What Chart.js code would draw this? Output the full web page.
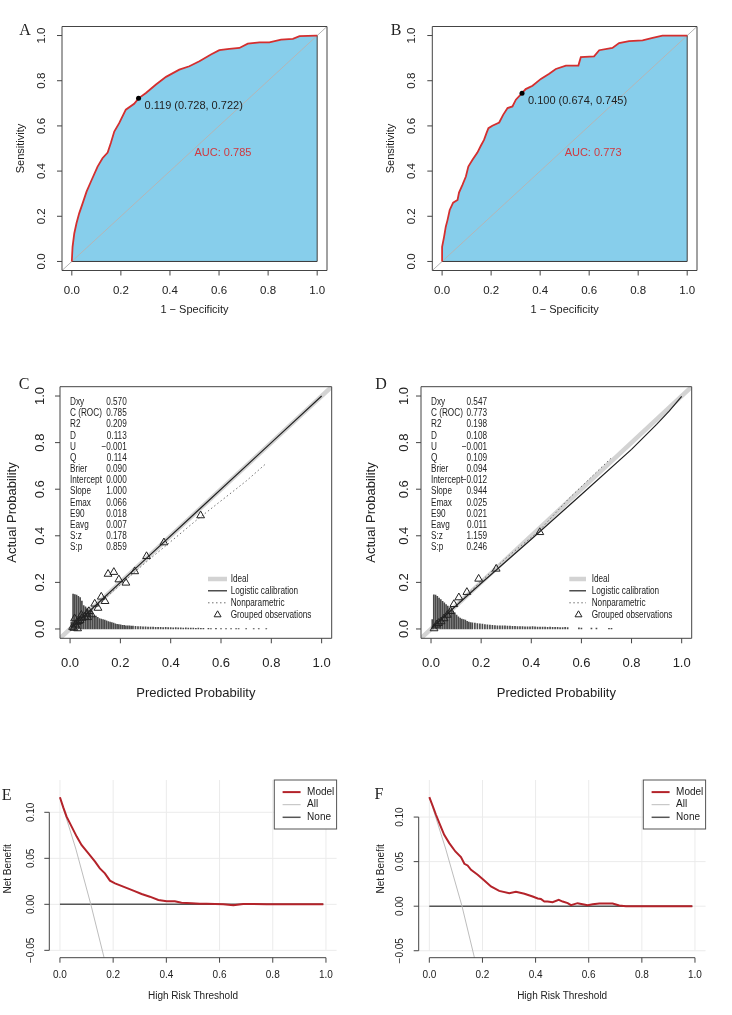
<!DOCTYPE html>
<html>
<head>
<meta charset="utf-8">
<title>ROC, calibration and decision curves</title>
<script src="https://cdn.jsdelivr.net/npm/chart.js@4.4.1/dist/chart.umd.min.js"></script>
<style>
  html, body { margin: 0; padding: 0; background: #ffffff; }
  #page { position: relative; width: 732px; height: 1015px; overflow: hidden; background: #ffffff; }
  .panel { position: absolute; }
  .panel canvas { display: block; }
</style>
</head>
<body>
<div id="page">
  <div class="panel" id="wrapA"><canvas id="rocA"></canvas></div>
  <div class="panel" id="wrapB"><canvas id="rocB"></canvas></div>
  <div class="panel" id="wrapC"><canvas id="calC"></canvas></div>
  <div class="panel" id="wrapD"><canvas id="calD"></canvas></div>
  <div class="panel" id="wrapE"><canvas id="dcaE"></canvas></div>
  <div class="panel" id="wrapF"><canvas id="dcaF"></canvas></div>
</div>
<script>
// ---- values ----
const unitTicks = [0, 0.2, 0.4, 0.6, 0.8, 1.0];
const unitTickLabels = ['0.0', '0.2', '0.4', '0.6', '0.8', '1.0'];
const nbTicks = [-0.05, 0, 0.05, 0.10];
const nbTickLabels = ['\u22120.05', '0.00', '0.05', '0.10'];

// ROC, training (A)
const rocA_fpr = [0, 0.003, 0.010, 0.019, 0.030, 0.044, 0.060, 0.078, 0.105, 0.125, 0.146, 0.159, 0.173, 0.193, 0.220, 0.254, 0.272, 0.302, 0.343, 0.384, 0.438, 0.479, 0.520, 0.567, 0.601, 0.642, 0.683, 0.717, 0.765, 0.805, 0.853, 0.901, 0.928, 0.996, 1];
const rocA_tpr = [0, 0.065, 0.124, 0.169, 0.213, 0.257, 0.309, 0.354, 0.420, 0.457, 0.482, 0.524, 0.575, 0.612, 0.672, 0.698, 0.722, 0.746, 0.783, 0.817, 0.849, 0.864, 0.886, 0.916, 0.935, 0.941, 0.945, 0.964, 0.970, 0.970, 0.982, 0.985, 0.997, 1.0, 1.0];
const rocA_best = [0.272, 0.722];
const rocA_bestLabel = '0.119 (0.728, 0.722)';
const rocA_auc = 'AUC: 0.785';

// ROC, validation (B)
const rocB_fpr = [0, 0, 0.008, 0.015, 0.022, 0.031, 0.045, 0.063, 0.069, 0.083, 0.097, 0.107, 0.124, 0.144, 0.158, 0.171, 0.181, 0.189, 0.205, 0.233, 0.249, 0.267, 0.287, 0.301, 0.326, 0.341, 0.369, 0.403, 0.437, 0.464, 0.505, 0.556, 0.566, 0.620, 0.641, 0.695, 0.722, 0.763, 0.818, 0.859, 0.899, 1];
const rocB_tpr = [0, 0.065, 0.109, 0.154, 0.183, 0.228, 0.260, 0.272, 0.305, 0.339, 0.376, 0.420, 0.450, 0.482, 0.512, 0.538, 0.568, 0.590, 0.601, 0.615, 0.649, 0.679, 0.686, 0.716, 0.745, 0.763, 0.778, 0.808, 0.831, 0.852, 0.867, 0.867, 0.905, 0.908, 0.935, 0.945, 0.967, 0.975, 0.979, 0.990, 1.0, 1.0];
const rocB_best = [0.326, 0.745];
const rocB_bestLabel = '0.100 (0.674, 0.745)';
const rocB_auc = 'AUC: 0.773';

// calibration (C, D)
const calStatNames = ['Dxy', 'C (ROC)', 'R2', 'D', 'U', 'Q', 'Brier', 'Intercept', 'Slope', 'Emax', 'E90', 'Eavg', 'S:z', 'S:p'];
const calC_stats = ['0.570', '0.785', '0.209', '0.113', '\u22120.001', '0.114', '0.090', '0.000', '1.000', '0.066', '0.018', '0.007', '0.178', '0.859'];
const calD_stats = ['0.547', '0.773', '0.198', '0.108', '\u22120.001', '0.109', '0.094', '\u22120.012', '0.944', '0.025', '0.021', '0.011', '1.159', '0.246'];
const calLegendLabels = ['Ideal', 'Logistic calibration', 'Nonparametric', 'Grouped observations'];

const calC_obsX = [0.519, 0.373, 0.304, 0.257, 0.222, 0.194, 0.174, 0.151, 0.124, 0.139, 0.111, 0.098, 0.085, 0.075, 0.066, 0.058, 0.048, 0.040, 0.034, 0.027, 0.021, 0.018, 0.015, 0.030, 0.010, 0.045, 0.070];
const calC_obsY = [0.487, 0.371, 0.312, 0.247, 0.198, 0.212, 0.244, 0.236, 0.138, 0.119, 0.090, 0.108, 0.062, 0.076, 0.065, 0.052, 0.047, 0.038, 0.033, 0.028, 0.018, 0.045, 0.004, 0.002, 0.008, 0.060, 0.050];
const calC_logX = [0.005, 0.1, 0.3, 0.5, 0.8, 1.0];
const calC_logY = [0.005, 0.1, 0.3, 0.5, 0.8, 1.0];
const calC_npX = [0.005, 0.05, 0.1, 0.2, 0.3, 0.4, 0.5, 0.6, 0.7, 0.78];
const calC_npY = [0.003, 0.045, 0.095, 0.19, 0.285, 0.375, 0.465, 0.55, 0.635, 0.711];
const calC_spikeX = [0.005, 0.012, 0.019, 0.026, 0.033, 0.040, 0.047, 0.054, 0.061, 0.068, 0.075, 0.082, 0.089, 0.096, 0.103, 0.110, 0.117, 0.124, 0.131, 0.138, 0.145, 0.152, 0.159, 0.166, 0.173, 0.180, 0.187, 0.194, 0.201, 0.208, 0.215, 0.222, 0.229, 0.236, 0.243, 0.250, 0.260, 0.270, 0.280, 0.290, 0.300, 0.310, 0.320, 0.330, 0.340, 0.350, 0.360, 0.370, 0.380, 0.390, 0.400, 0.410, 0.420, 0.430, 0.440, 0.450, 0.460, 0.470, 0.480, 0.490, 0.500, 0.510, 0.520, 0.530, 0.550, 0.560, 0.580, 0.600, 0.620, 0.640, 0.660, 0.670, 0.700, 0.730, 0.750, 0.780];
const calC_spikeH = [0.030, 0.150, 0.148, 0.145, 0.140, 0.135, 0.120, 0.100, 0.095, 0.090, 0.082, 0.075, 0.065, 0.058, 0.055, 0.050, 0.045, 0.042, 0.040, 0.038, 0.035, 0.032, 0.030, 0.028, 0.025, 0.022, 0.020, 0.019, 0.018, 0.016, 0.016, 0.014, 0.013, 0.013, 0.012, 0.012, 0.011, 0.010, 0.010, 0.009, 0.009, 0.008, 0.008, 0.008, 0.007, 0.007, 0.007, 0.006, 0.007, 0.006, 0.006, 0.005, 0.006, 0.005, 0.005, 0.004, 0.005, 0.004, 0.004, 0.004, 0.003, 0.004, 0.003, 0.003, 0.003, 0.002, 0.003, 0.002, 0.002, 0.002, 0.002, 0.002, 0.002, 0.002, 0.002, 0.002];

const calD_obsX = [0.434, 0.260, 0.190, 0.143, 0.111, 0.091, 0.078, 0.065, 0.052, 0.040, 0.030, 0.022, 0.012];
const calD_obsY = [0.415, 0.258, 0.215, 0.158, 0.135, 0.106, 0.076, 0.060, 0.045, 0.032, 0.025, 0.018, 0.002];
const calD_logX = [0.005, 0.1, 0.2, 0.4, 0.6, 0.8, 0.9, 0.95, 1.0];
const calD_logY = [0.006, 0.1, 0.196, 0.385, 0.577, 0.771, 0.878, 0.935, 0.998];
const calD_npX = [0.01, 0.1, 0.2, 0.3, 0.43, 0.55, 0.72];
const calD_npY = [0.005, 0.105, 0.205, 0.305, 0.42, 0.56, 0.735];
const calD_spikeX = [0.005, 0.011, 0.018, 0.025, 0.032, 0.039, 0.046, 0.053, 0.060, 0.067, 0.074, 0.081, 0.088, 0.095, 0.102, 0.109, 0.116, 0.123, 0.130, 0.137, 0.144, 0.151, 0.158, 0.165, 0.175, 0.185, 0.195, 0.205, 0.215, 0.225, 0.235, 0.245, 0.255, 0.265, 0.275, 0.285, 0.295, 0.305, 0.315, 0.325, 0.335, 0.345, 0.355, 0.365, 0.375, 0.385, 0.395, 0.405, 0.415, 0.425, 0.435, 0.445, 0.455, 0.465, 0.475, 0.485, 0.495, 0.505, 0.515, 0.525, 0.535, 0.545, 0.590, 0.600, 0.640, 0.660, 0.710, 0.720];
const calD_spikeH = [0.040, 0.147, 0.145, 0.140, 0.133, 0.126, 0.119, 0.112, 0.105, 0.098, 0.090, 0.083, 0.076, 0.069, 0.060, 0.052, 0.047, 0.043, 0.040, 0.038, 0.033, 0.030, 0.028, 0.026, 0.025, 0.023, 0.022, 0.021, 0.019, 0.018, 0.017, 0.016, 0.015, 0.014, 0.014, 0.013, 0.013, 0.012, 0.012, 0.011, 0.011, 0.010, 0.010, 0.010, 0.009, 0.009, 0.009, 0.010, 0.009, 0.008, 0.008, 0.008, 0.008, 0.007, 0.008, 0.007, 0.007, 0.007, 0.006, 0.006, 0.007, 0.006, 0.005, 0.004, 0.004, 0.004, 0.003, 0.003];

// decision curves (E, F)
const dcaLegendLabels = ['Model', 'All', 'None'];
const dcaE_thr = [0, 0.0125, 0.025, 0.044, 0.063, 0.081, 0.107, 0.132, 0.150, 0.169, 0.188, 0.207, 0.238, 0.276, 0.307, 0.338, 0.370, 0.401, 0.432, 0.457, 0.495, 0.526, 0.551, 0.583, 0.614, 0.652, 0.689, 0.727, 0.777, 0.99];
const dcaE_model = [0.1163, 0.1054, 0.0953, 0.0844, 0.0736, 0.0645, 0.0554, 0.0464, 0.0391, 0.0337, 0.0257, 0.0228, 0.0192, 0.0149, 0.0112, 0.0083, 0.0047, 0.0033, 0.0033, 0.0018, 0.0011, 0.0007, 0.0007, 0.0004, 0, -0.0011, 0.0004, 0.0004, 0, 0];
const dcaE_allThr = [0, 0.06, 0.116, 0.166];
const dcaE_all = [0.116, 0.060, 0, -0.058];
const dcaF_thr = [0, 0.0125, 0.025, 0.040, 0.056, 0.075, 0.098, 0.119, 0.132, 0.144, 0.157, 0.182, 0.207, 0.232, 0.263, 0.301, 0.326, 0.358, 0.389, 0.408, 0.420, 0.433, 0.445, 0.464, 0.487, 0.502, 0.521, 0.533, 0.558, 0.577, 0.596, 0.615, 0.640, 0.690, 0.715, 0.740, 0.99];
const dcaF_model = [0.1225, 0.1127, 0.1026, 0.0914, 0.0801, 0.0708, 0.0614, 0.0551, 0.0476, 0.0457, 0.0408, 0.0352, 0.0288, 0.0221, 0.0172, 0.0146, 0.0161, 0.0139, 0.0109, 0.0086, 0.0082, 0.0052, 0.0052, 0.0045, 0.0071, 0.0052, 0.0034, 0.0011, 0.0034, 0.0022, 0.0011, 0.0022, 0.0030, 0.0030, 0.0007, 0, 0];
const dcaF_allThr = [0, 0.062, 0.123, 0.170];
const dcaF_all = [0.1225, 0.064, 0, -0.058];
const noneThr = [0, 0.99];
const noneNb = [0, 0];

// ---- drawing ----
const SANS = "'Liberation Sans', Arial, Helvetica, sans-serif";
const SERIF = "'Liberation Serif', 'Times New Roman', serif";
const INK = '#222222';
const AXIS = '#444444';
const ROC_RED = '#D42F2F';
const DCA_RED = '#B4232A';
const refSpan = [-0.04, 1.04];

function pts(xs, ys) { return xs.map((x, i) => ({ x: x, y: ys[i] })); }

function lineSet(data, color, width, order, extra) {
    return Object.assign({
        type: 'line', data: data, borderColor: color, borderWidth: width,
        pointRadius: 0, fill: false, tension: 0, order: order
    }, extra || {});
}

let narrowOK = null;
function narrowText(ctx, text, x, y, align, size) {
    if (narrowOK === null) {
        ctx.save();
        ctx.font = "10px 'Liberation Sans Narrow', 'Liberation Mono'";
        const a = ctx.measureText('Logistic calibration').width;
        ctx.font = "10px 'Liberation Mono'";
        const b = ctx.measureText('Logistic calibration').width;
        ctx.restore();
        narrowOK = Math.abs(a - b) > 0.5;
    }
    ctx.save();
    ctx.translate(x, y);
    if (narrowOK) {
        ctx.font = size + "px 'Liberation Sans Narrow'";
    } else {
        ctx.font = size + 'px ' + SANS;
        ctx.scale(0.82, 1);
    }
    ctx.textAlign = align;
    ctx.textBaseline = 'middle';
    ctx.fillStyle = INK;
    ctx.fillText(text, 0, 0);
    ctx.restore();
}

function rotText(ctx, text, x, y) {
    ctx.save();
    ctx.translate(x, y);
    ctx.rotate(-Math.PI / 2);
    ctx.fillText(text, 0, 0);
    ctx.restore();
}

function drawGrid(chart, cfg) {
    const ctx = chart.ctx, ca = chart.chartArea, sx = chart.scales.x, sy = chart.scales.y;
    const yLow = sy.getPixelForValue(cfg.axes.yTicks[0]);
    ctx.save();
    ctx.strokeStyle = '#EBEBEB';
    ctx.lineWidth = 1;
    ctx.beginPath();
    cfg.axes.xTicks.forEach(v => {
        const p = sx.getPixelForValue(v);
        ctx.moveTo(p, ca.top); ctx.lineTo(p, yLow);
    });
    cfg.axes.yTicks.forEach(v => {
        const p = sy.getPixelForValue(v);
        ctx.moveTo(ca.left, p); ctx.lineTo(ca.right, p);
    });
    ctx.stroke();
    ctx.restore();
}

function drawAxes(chart, cfg) {
    const ctx = chart.ctx, ca = chart.chartArea, sx = chart.scales.x, sy = chart.scales.y;
    const ax = cfg.axes;
    ctx.save();
    ctx.strokeStyle = AXIS;
    ctx.lineWidth = 1;
    ctx.beginPath();
    if (cfg.kind === 'dca') {
        // R style: axis lines run from the first to the last tick
        ctx.moveTo(sx.getPixelForValue(ax.xTicks[0]), ca.bottom);
        ctx.lineTo(sx.getPixelForValue(ax.xTicks[ax.xTicks.length - 1]), ca.bottom);
        ctx.moveTo(ca.left, sy.getPixelForValue(ax.yTicks[0]));
        ctx.lineTo(ca.left, sy.getPixelForValue(ax.yTicks[ax.yTicks.length - 1]));
    } else {
        ctx.rect(ca.left, ca.top, ca.right - ca.left, ca.bottom - ca.top);
    }
    ax.xTicks.forEach(v => {
        const p = sx.getPixelForValue(v);
        ctx.moveTo(p, ca.bottom); ctx.lineTo(p, ca.bottom + 5);
    });
    ax.yTicks.forEach(v => {
        const p = sy.getPixelForValue(v);
        ctx.moveTo(ca.left, p); ctx.lineTo(ca.left - 5, p);
    });
    ctx.stroke();

    ctx.fillStyle = INK;
    ctx.textAlign = 'center';
    ctx.textBaseline = 'middle';
    ctx.font = ax.tickSize + 'px ' + SANS;
    ax.xTicks.forEach((v, i) => ctx.fillText(ax.xLabels[i], sx.getPixelForValue(v), ca.bottom + ax.xLabOff));
    ax.yTicks.forEach((v, i) => rotText(ctx, ax.yLabels[i], ca.left - ax.yLabOff, sy.getPixelForValue(v)));
    ctx.font = ax.titleSize + 'px ' + SANS;
    ctx.fillText(ax.xTitle, (ca.left + ca.right) / 2, ca.bottom + ax.xTitleOff);
    rotText(ctx, ax.yTitle, ca.left - ax.yTitleOff, (ca.top + ca.bottom) / 2);

    ctx.font = '16px ' + SERIF;
    ctx.fillText(cfg.letter, cfg.letterPos[0] - cfg.frame.x, cfg.letterPos[1] - cfg.frame.y);
    ctx.restore();
}

function rDecor(cfg) {
    return {
        id: 'rdecor',
        beforeDatasetsDraw(chart) { if (cfg.kind === 'dca') drawGrid(chart, cfg); },
        afterDatasetsDraw(chart) {
            drawAxes(chart, cfg);
            if (cfg.notes) cfg.notes(chart, cfg);
        }
    };
}

function makePanel(cfg) {
    const f = cfg.frame, a = cfg.area;
    const wrap = document.getElementById(cfg.wrap);
    wrap.style.left = f.x + 'px';
    wrap.style.top = f.y + 'px';
    wrap.style.width = f.w + 'px';
    wrap.style.height = f.h + 'px';
    return new Chart(document.getElementById(cfg.canvas), {
        type: 'scatter',
        data: { datasets: cfg.datasets },
        options: {
            responsive: true,
            maintainAspectRatio: false,
            animation: false,
            layout: { padding: { left: a.l - f.x, top: a.t - f.y, right: f.x + f.w - a.r, bottom: f.y + f.h - a.b } },
            plugins: { legend: { display: false }, tooltip: { enabled: false } },
            scales: {
                x: { type: 'linear', min: cfg.xRange[0], max: cfg.xRange[1], offset: false, display: false },
                y: { type: 'linear', min: cfg.yRange[0], max: cfg.yRange[1], offset: false, display: false }
            }
        },
        plugins: [rDecor(cfg)]
    });
}

// ROC panels
function rocSets(fpr, tpr, best) {
    return [
        lineSet(pts(fpr, tpr), 'rgba(0,0,0,0)', 0, 5, { fill: 'origin', backgroundColor: '#87CEEB' }),
        lineSet(pts(refSpan, refSpan), '#B5B5B5', 1, 4),
        lineSet(pts([0, 1, 1], [0, 0, 1]), '#3A3A3A', 1, 3),
        lineSet(pts(fpr, tpr), ROC_RED, 1.8, 2),
        { type: 'scatter', data: [{ x: best[0], y: best[1] }], pointRadius: 2.5, backgroundColor: '#000', borderWidth: 0, order: 1 }
    ];
}

function rocNotes(best, label, auc) {
    return function (chart) {
        const ctx = chart.ctx, sx = chart.scales.x, sy = chart.scales.y;
        ctx.save();
        ctx.font = '11px ' + SANS;
        ctx.textAlign = 'left';
        ctx.textBaseline = 'middle';
        ctx.fillStyle = INK;
        ctx.fillText(label, sx.getPixelForValue(best[0]) + 6, sy.getPixelForValue(best[1]) + 7.5);
        ctx.fillStyle = '#D0393F';
        ctx.fillText(auc, sx.getPixelForValue(0.5), sy.getPixelForValue(0.479));
        ctx.restore();
    };
}

function rocAxes(yLabOff, yTitleOff) {
    return {
        xTicks: unitTicks, xLabels: unitTickLabels, yTicks: unitTicks, yLabels: unitTickLabels,
        tickSize: 11.5, titleSize: 11, xLabOff: 20.2, xTitleOff: 39.5, yLabOff: yLabOff, yTitleOff: yTitleOff,
        xTitle: '1 \u2212 Specificity', yTitle: 'Sensitivity'
    };
}

// calibration panels
function calSets(npX, npY, logX, logY, spX, spH, obX, obY) {
    return [
        lineSet(pts(refSpan, refSpan), '#D3D3D3', 4.5, 6),
        { type: 'bar', data: pts(spX, spH), backgroundColor: '#4A4A4A', borderWidth: 0, barThickness: 1, order: 5 },
        lineSet(pts(npX, npY), '#6E6E6E', 1, 4, { borderDash: [1.5, 2.5] }),
        lineSet(pts(logX, logY), '#222222', 1.2, 3),
        { type: 'scatter', data: pts(obX, obY), pointStyle: 'triangle', pointRadius: 4.5, borderColor: '#222222', borderWidth: 1, backgroundColor: 'rgba(0,0,0,0)', order: 2 }
    ];
}

function calNotes(values, nameX, valueRight, leg) {
    return function (chart, cfg) {
        const ctx = chart.ctx, fx = cfg.frame.x, fy = cfg.frame.y;
        calStatNames.forEach((name, i) => {
            const y = 402.3 + i * 11.18 - fy;
            narrowText(ctx, name, nameX - fx, y, 'left', 10);
            narrowText(ctx, values[i], valueRight - fx, y, 'right', 10);
        });
        const rows = [579, 590.8, 602.8, 614.8];
        const l = leg.lineL - fx, r = leg.lineR - fx;
        ctx.save();
        ctx.lineCap = 'butt';
        ctx.strokeStyle = '#D3D3D3'; ctx.lineWidth = 4.5;
        ctx.beginPath(); ctx.moveTo(l, rows[0] - fy); ctx.lineTo(r, rows[0] - fy); ctx.stroke();
        ctx.strokeStyle = '#222222'; ctx.lineWidth = 1.2;
        ctx.beginPath(); ctx.moveTo(l, rows[1] - fy); ctx.lineTo(r, rows[1] - fy); ctx.stroke();
        ctx.strokeStyle = '#6E6E6E'; ctx.lineWidth = 1; ctx.setLineDash([1.5, 2.5]);
        ctx.beginPath(); ctx.moveTo(l, rows[2] - fy); ctx.lineTo(r, rows[2] - fy); ctx.stroke();
        ctx.setLineDash([]);
        ctx.strokeStyle = '#222222'; ctx.fillStyle = 'rgba(0,0,0,0)'; ctx.lineWidth = 1;
        Chart.helpers.drawPoint(ctx, { pointStyle: 'triangle', radius: 4, borderWidth: 1 }, leg.tri - fx, rows[3] - fy);
        ctx.restore();
        calLegendLabels.forEach((t, i) => narrowText(ctx, t, leg.textX - fx, rows[i] - fy, 'left', 10));
    };
}

function calAxes(yLabOff, yTitleOff) {
    return {
        xTicks: unitTicks, xLabels: unitTickLabels, yTicks: unitTicks, yLabels: unitTickLabels,
        tickSize: 13, titleSize: 13, xLabOff: 25, xTitleOff: 55.5, yLabOff: yLabOff, yTitleOff: yTitleOff,
        xTitle: 'Predicted Probability', yTitle: 'Actual Probability'
    };
}

// decision curve panels
function dcaSets(thr, model, allThr, allNb) {
    return [
        lineSet(pts(noneThr, noneNb), '#555555', 1.5, 4),
        lineSet(pts(allThr, allNb), '#BDBDBD', 1, 3),
        lineSet(pts(thr, model), DCA_RED, 2, 2)
    ];
}

function dcaNotes(chart) {
    const ctx = chart.ctx, ca = chart.chartArea;
    const w = 62.3, h = 49, x0 = ca.right - w, y0 = ca.top;
    const styles = [[DCA_RED, 2], ['#BDBDBD', 1], ['#555555', 1.5]];
    ctx.save();
    ctx.fillStyle = '#FFFFFF';
    ctx.fillRect(x0, y0, w, h);
    ctx.strokeStyle = '#555555';
    ctx.lineWidth = 1;
    ctx.strokeRect(x0, y0, w, h);
    ctx.font = '10px ' + SANS;
    ctx.textAlign = 'left';
    ctx.textBaseline = 'middle';
    dcaLegendLabels.forEach((lab, i) => {
        const y = y0 + 12.1 + i * 12.6;
        ctx.strokeStyle = styles[i][0];
        ctx.lineWidth = styles[i][1];
        ctx.beginPath(); ctx.moveTo(ca.right - 54, y); ctx.lineTo(ca.right - 36, y); ctx.stroke();
        ctx.fillStyle = INK;
        ctx.fillText(lab, ca.right - 29.5, y);
    });
    ctx.restore();
}

function dcaAxes(yLabOff, yTitleOff) {
    return {
        xTicks: unitTicks, xLabels: unitTickLabels, yTicks: nbTicks, yLabels: nbTickLabels,
        tickSize: 10, titleSize: 10, xLabOff: 17.3, xTitleOff: 39, yLabOff: yLabOff, yTitleOff: yTitleOff,
        xTitle: 'High Risk Threshold', yTitle: 'Net Benefit'
    };
}

makePanel({
    wrap: 'wrapA', canvas: 'rocA', kind: 'roc', letter: 'A', letterPos: [25, 30.7],
    frame: { x: 0, y: 0, w: 366, h: 340 }, area: { l: 62, t: 26.5, r: 327, b: 270.5 },
    xRange: refSpan, yRange: refSpan, axes: rocAxes(20.3, 41.3),
    datasets: rocSets(rocA_fpr, rocA_tpr, rocA_best),
    notes: rocNotes(rocA_best, rocA_bestLabel, rocA_auc)
});
makePanel({
    wrap: 'wrapB', canvas: 'rocB', kind: 'roc', letter: 'B', letterPos: [396, 30.7],
    frame: { x: 366, y: 0, w: 366, h: 340 }, area: { l: 432.3, t: 26.5, r: 697, b: 270.5 },
    xRange: refSpan, yRange: refSpan, axes: rocAxes(20.3, 41.3),
    datasets: rocSets(rocB_fpr, rocB_tpr, rocB_best),
    notes: rocNotes(rocB_best, rocB_bestLabel, rocB_auc)
});
makePanel({
    wrap: 'wrapC', canvas: 'calC', kind: 'cal', letter: 'C', letterPos: [24, 385],
    frame: { x: 0, y: 350, w: 366, h: 360 }, area: { l: 60, t: 386.7, r: 331.7, b: 638.3 },
    xRange: refSpan, yRange: refSpan, axes: calAxes(20, 47.7),
    datasets: calSets(calC_npX, calC_npY, calC_logX, calC_logY, calC_spikeX, calC_spikeH, calC_obsX, calC_obsY),
    notes: calNotes(calC_stats, 70, 126.7, { lineL: 208, lineR: 227, tri: 217.6, textX: 230.7 })
});
makePanel({
    wrap: 'wrapD', canvas: 'calD', kind: 'cal', letter: 'D', letterPos: [381, 385],
    frame: { x: 366, y: 350, w: 366, h: 360 }, area: { l: 421, t: 386.7, r: 691.7, b: 638.3 },
    xRange: refSpan, yRange: refSpan, axes: calAxes(16.7, 50),
    datasets: calSets(calD_npX, calD_npY, calD_logX, calD_logY, calD_spikeX, calD_spikeH, calD_obsX, calD_obsY),
    notes: calNotes(calD_stats, 431, 487, { lineL: 569.3, lineR: 586, tri: 578.5, textX: 591.7 })
});
makePanel({
    wrap: 'wrapE', canvas: 'dcaE', kind: 'dca', letter: 'E', letterPos: [6.7, 795.3],
    frame: { x: 0, y: 730, w: 366, h: 285 }, area: { l: 49.3, t: 780, r: 336.6, b: 957.7 },
    xRange: refSpan, yRange: [-0.058, 0.1351], axes: dcaAxes(17.6, 41),
    datasets: dcaSets(dcaE_thr, dcaE_model, dcaE_allThr, dcaE_all),
    notes: dcaNotes
});
makePanel({
    wrap: 'wrapF', canvas: 'dcaF', kind: 'dca', letter: 'F', letterPos: [379, 795],
    frame: { x: 366, y: 730, w: 366, h: 285 }, area: { l: 418.7, t: 780, r: 705.6, b: 957.7 },
    xRange: refSpan, yRange: [-0.0578, 0.1416], axes: dcaAxes(18.4, 37.7),
    datasets: dcaSets(dcaF_thr, dcaF_model, dcaF_allThr, dcaF_all),
    notes: dcaNotes
});
</script>
</body>
</html>
